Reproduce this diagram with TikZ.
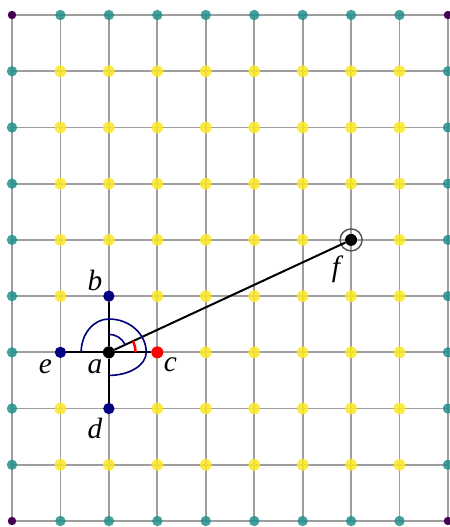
\documentclass[tikz,border=0pt]{standalone}
\usepackage{fontspec}
\setmainfont{Liberation Serif}
\usepackage{xcolor}
\usepackage{tikz}
\usetikzlibrary{calc, positioning}

\definecolor{viridisTeal}{HTML}{21918C}
\definecolor{viridisJaune}{HTML}{FDE725}
\definecolor{viridisViolet}{HTML}{440154}
\definecolor{marine}{HTML}{000080}
\definecolor{grisGrille}{HTML}{9E9E9E}
\definecolor{grisAnneau}{HTML}{555555}

\begin{document}
\begin{tikzpicture}[
        x={(36.33pt, 0pt)},
        y={(0pt, 42.165pt)},
        >=latex,
        grille/.style={grisGrille, line width=1.3pt},
        pt/.style={circle, inner sep=0pt, draw=none},
        pt jaune/.style={pt, fill=viridisJaune, fill opacity=0.85, minimum size=8.8pt},
        pt bord/.style={pt, fill=viridisTeal, fill opacity=0.85, minimum size=7.8pt},
        pt coin/.style={pt, fill=viridisViolet, minimum size=6.3pt},
        pt noir/.style={pt, fill=black, minimum size=9pt},
        pt marine/.style={pt, fill=marine, minimum size=8.5pt},
        pt rouge/.style={pt, fill=red, minimum size=9pt},
        anneau/.style={circle, draw=grisAnneau, line width=1.1pt, minimum size=16.5pt, inner sep=0pt},
        segment/.style={black, line width=1.5pt},
        arc marine/.style={marine, line width=1.2pt},
        arc rouge/.style={red, line width=1.9pt},
        etiq/.style={inner sep=0pt, font=\fontsize{22}{26}\selectfont\itshape}
    ]
        % --- Cadre de l'image ---
        \useasboundingbox (-0.2477, -0.1067) rectangle (9.0215, 9.267);

        % --- Grille ---
        \foreach \k in {0,...,9} {
            \draw[grille] (\k, 0) -- (\k, 9);
            \draw[grille] (0, \k) -- (9, \k);
        }

        % --- Points de la grille (bord, coins, interieur) ---
        \foreach \i in {0,...,9} {
            \foreach \j in {0,...,9} {
                \pgfmathtruncatemacro{\bord}{(\i==0)||(\i==9)}
                \pgfmathtruncatemacro{\genre}{\bord+((\j==0)||(\j==9))}
                \pgfmathtruncatemacro{\pris}{((\i==2)&&(\j>1)&&(\j<5))||((\j==3)&&(\i>0)&&(\i<4))||((\i==7)&&(\j==5))}
                \ifnum\pris=0
                    \ifcase\genre
                        \node[pt jaune] (p\i\j) at (\i, \j) {};
                    \or
                        \node[pt bord] (p\i\j) at (\i, \j) {};
                    \else
                        \node[pt coin] (p\i\j) at (\i, \j) {};
                    \fi
                \fi
            }
        }

        % --- Points particuliers ---
        \node[pt noir]   (a) at (2, 3) {};
        \node[pt marine] (b) at (2, 4) {};
        \node[pt rouge]  (c) at (3, 3) {};
        \node[pt marine] (d) at (2, 2) {};
        \node[pt marine] (e) at (1, 3) {};
        \node[pt noir]   (f) at (7, 5) {};
        \node[anneau]    (anneau f) at (f) {};

        % --- Segments depuis a ---
        \draw[segment] (a) -- (b);
        \draw[segment] (a) -- (c);
        \draw[segment] (a) -- (d);
        \draw[segment] (a) -- (e);
        \draw[segment] (a) -- (f);

        % --- Grand arc : de ae vers ad (sens horaire) ---
        \draw[arc marine] ($(a) + (-20.8pt, 0)$)
            arc[start angle=180, end angle=90, x radius=20.8pt, y radius=25pt]
            arc[start angle=90, end angle=0, x radius=28pt, y radius=25pt]
            arc[start angle=0, end angle=-90, x radius=28pt, y radius=17.3pt];

        % --- Petits arcs : ab vers af, puis ac vers af ---
        \draw[arc marine] let \p1 = ($(f) - (a)$), \n1 = {atan2(\y1, \x1)} in
            ($(a) + (90:13.5pt)$) arc[start angle=90, end angle=\n1, radius=13.5pt];
        \draw[arc rouge] let \p1 = ($(f) - (a)$), \n1 = {atan2(\y1, \x1)} in
            ($(a) + (0:20pt)$) arc[start angle=0, end angle=\n1, radius=20pt];

        % --- Etiquettes ---
        \node[etiq] (lbl a) at ($(a) + (-10.5pt, -10.7pt)$) {a};
        \node[etiq] (lbl b) at ($(b) + (-10.5pt, 12pt)$)    {b};
        \node[etiq] (lbl c) at ($(c) + (9.8pt, -9.2pt)$)    {c};
        \node[etiq] (lbl d) at ($(d) + (-10.5pt, -15.3pt)$) {d};
        \node[etiq] (lbl e) at ($(e) + (-11.3pt, -10.7pt)$) {e};
        \node[etiq] (lbl f) at ($(f) + (-11.3pt, -22.3pt)$) {f};

    \end{tikzpicture}
\end{document}
